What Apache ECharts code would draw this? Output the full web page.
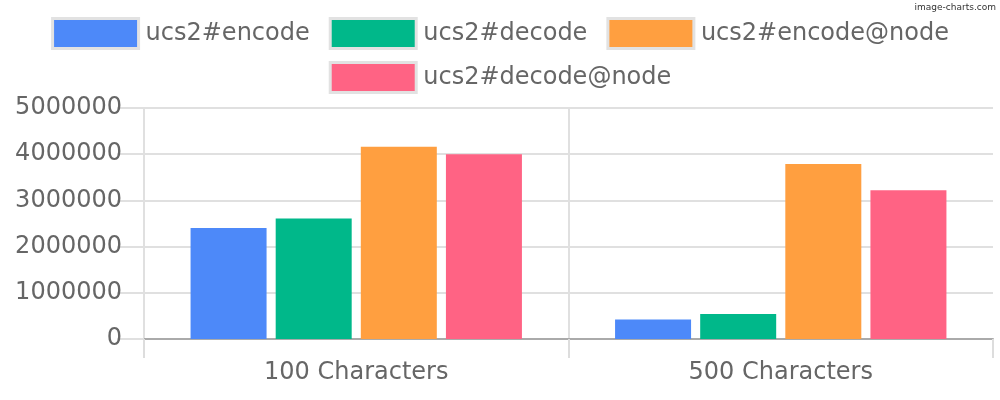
<!DOCTYPE html>
<html>
<head>
<meta charset="utf-8">
<script src="https://cdn.jsdelivr.net/npm/echarts@6/dist/echarts.min.js"></script>
<style>
html,body{margin:0;padding:0;background:#fff;}
#chart{width:1000px;height:400px;}
</style>
</head>
<body>
<div id="chart"></div>
<script>
var categories = ['100 Characters', '500 Characters'];
var seriesNames = ['ucs2#encode', 'ucs2#decode', 'ucs2#encode@node', 'ucs2#decode@node'];
var encodeVals = [2400000, 420000];
var decodeVals = [2610000, 540000];
var encodeNodeVals = [4160000, 3790000];
var decodeNodeVals = [4000000, 3220000];
var yTicks = [0, 1000000, 2000000, 3000000, 4000000, 5000000];
var colors = ['#4D89F9', '#00B88A', '#FF9F40', '#FF6384'];

var font = 'DejaVu Sans';
var values = [encodeVals, decodeVals, encodeNodeVals, decodeNodeVals];

var series = [];
for (var i = 0; i < seriesNames.length; i++) {
    series.push({
        name: seriesNames[i],
        type: 'bar',
        data: values[i],
        barWidth: 76,
        barGap: '12%',
        itemStyle: {color: colors[i]}
    });
}

var legendCommon = {
    left: 'center',
    itemWidth: 86,
    itemHeight: 30,
    itemGap: 19,
    icon: 'rect',
    itemStyle: {borderColor: '#e2e2e2', borderWidth: 3},
    textStyle: {fontFamily: font, fontSize: 24, color: '#666', padding: [0, 0, 0, 2]}
};

var myChart = echarts.init(document.getElementById('chart'), null, {renderer: 'canvas'});
var option = {
    animation: false,
    color: colors,
    textStyle: {fontFamily: font},
    legend: [
        Object.assign({top: 12, data: seriesNames.slice(0, 3)}, legendCommon),
        Object.assign({top: 56, data: seriesNames.slice(3)}, legendCommon)
    ],
    graphic: [{
        type: 'text',
        right: 4,
        top: 3,
        style: {text: 'image-charts.com', fontFamily: font, fontSize: 9, fill: '#333'}
    }],
    grid: {left: 144, right: 7, top: 108, bottom: 61, containLabel: false},
    xAxis: {
        type: 'category',
        data: categories,
        axisLine: {lineStyle: {color: '#aaa', width: 2}},
        axisTick: {show: true, length: 19, lineStyle: {color: '#ddd', width: 2}},
        splitLine: {show: true, showMaxLine: false, lineStyle: {color: '#e0e0e0', width: 2}},
        axisLabel: {fontFamily: font, fontSize: 24, color: '#666', margin: 22}
    },
    yAxis: {
        type: 'value',
        min: yTicks[0],
        max: yTicks[yTicks.length - 1],
        interval: yTicks[1] - yTicks[0],
        axisLine: {show: false},
        axisTick: {show: true, length: 27, lineStyle: {color: '#e0e0e0', width: 2}},
        splitLine: {lineStyle: {color: '#e0e0e0', width: 2}},
        axisLabel: {
            fontFamily: font, fontSize: 24, color: '#666', margin: 22,
            formatter: function (v) { return String(v); }
        }
    },
    series: series
};
myChart.setOption(option);
</script>
</body>
</html>
